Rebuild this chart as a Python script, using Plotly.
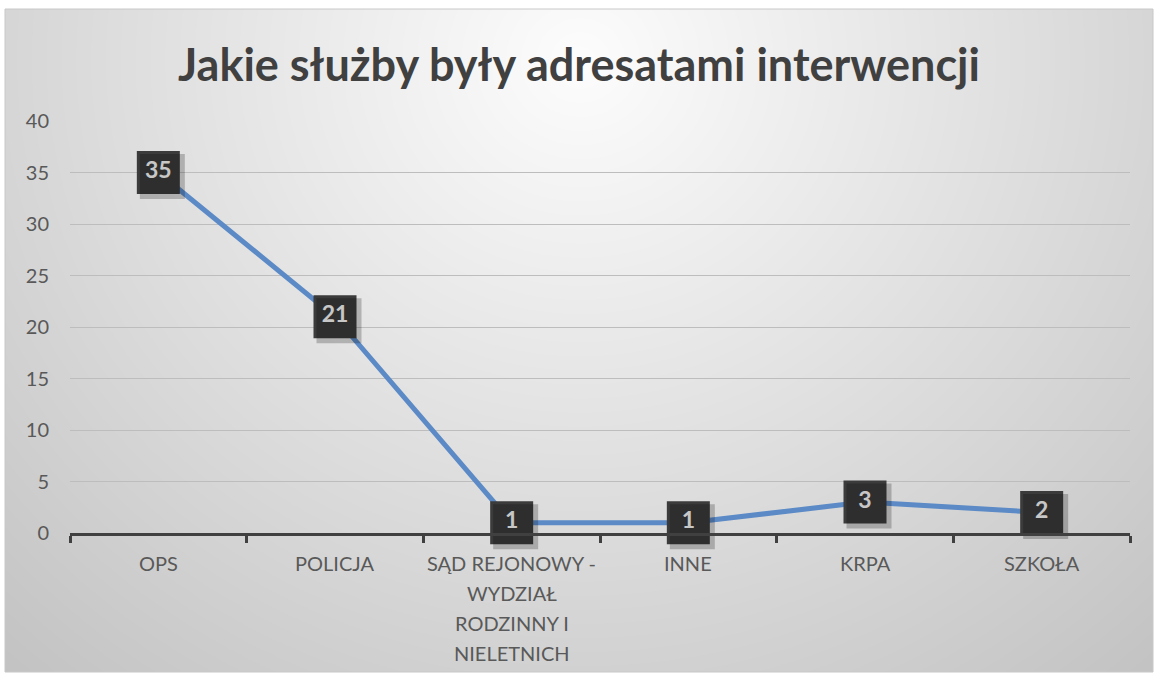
import base64, struct, zlib
import numpy as np
import plotly.graph_objects as go

# ---- data ----
categories = ["OPS", "POLICJA", "SĄD REJONOWY -<br>WYDZIAŁ<br>RODZINNY I<br>NIELETNICH", "INNE", "KRPA", "SZKOŁA"]
values = [35, 21, 1, 1, 3, 2]
y_ticks = [0, 5, 10, 15, 20, 25, 30, 35, 40]
title_text = "Jakie służby były adresatami interwencji"

W, H = 1158, 674
ML, MR, MT, MB = 70, 28, 121, 141
PW, PH = W - ML - MR, H - MT - MB
X_RANGE = [-0.5, len(categories) - 0.5]
Y_RANGE = [0, 40]

# ---- background gradient image (chart area style) ----
bx0, by0, bx1, by1 = 5, 9, 1153, 672
bw, bh = bx1 - bx0, by1 - by0
yy, xx = np.mgrid[0:bh, 0:bw]
cx, cy = 580 - bx0, 60 - by0
d = np.sqrt(((xx - cx) / 1.0) ** 2 + ((yy - cy) / 0.95) ** 2)
col = np.clip(253 - d * (58.0 / 860.0), 190, 255).astype(np.uint8)

def png_bytes(gray):
    h, w = gray.shape
    raw = b"".join(b"\x00" + gray[r].tobytes() for r in range(h))
    def chunk(t, data):
        c = struct.pack(">I", len(data)) + t + data
        return c + struct.pack(">I", zlib.crc32(t + data) & 0xFFFFFFFF)
    return (b"\x89PNG\r\n\x1a\n" + chunk(b"IHDR", struct.pack(">IIBBBBB", w, h, 8, 0, 0, 0, 0))
            + chunk(b"IDAT", zlib.compress(raw, 9)) + chunk(b"IEND", b""))

bg_uri = "data:image/png;base64," + base64.b64encode(png_bytes(col)).decode()

def px_x(p):
    return (p - ML) / PW

def px_y(p):
    return (H - MB - p) / PH

fig = go.Figure()

fig.add_trace(go.Scatter(
    x=categories, y=values, mode="lines",
    line=dict(color="#5b8ac6", width=5), hoverinfo="skip", showlegend=False,
    cliponaxis=False,
))
# shadow for labels (on shifted overlay axes -> offset right/down by a few px)
fig.add_trace(go.Scatter(
    x=categories, y=values, mode="markers", xaxis="x2", yaxis="y2",
    marker=dict(symbol="square", size=45, color="rgba(0,0,0,0.22)", line=dict(width=0)),
    hoverinfo="skip", showlegend=False, cliponaxis=False,
))
fig.add_trace(go.Scatter(
    x=categories, y=values, mode="markers+text",
    text=[str(v) for v in values], textposition="middle center",
    textfont=dict(family="Lato", size=23, color="#ffffff", weight="bold"),
    marker=dict(symbol="square", size=43, color="#3b3b3b", line=dict(width=0)),
    hoverinfo="skip", showlegend=False, cliponaxis=False,
))

annotations = []
for i, lab in enumerate(categories):
    for j, line in enumerate(lab.split("<br>")):
        annotations.append(dict(
            x=i, y=0, xref="x", yref="paper", text=line, showarrow=False,
            yanchor="middle", xanchor="center", yshift=-30 - 30 * j,
            font=dict(family="Lato", size=20, color="#595959"),
        ))

sx = 4 * (X_RANGE[1] - X_RANGE[0]) / PW
sy = 4 * (Y_RANGE[1] - Y_RANGE[0]) / PH

fig.update_layout(
    width=W, height=H,
    margin=dict(l=ML, r=MR, t=MT, b=MB, autoexpand=False),
    paper_bgcolor="white", plot_bgcolor="rgba(0,0,0,0)",
    title=dict(text=f"<b>{title_text}</b>", x=0.5, xanchor="center", y=1 - 65 / H, yanchor="middle",
               font=dict(family="Lato", size=45, color="#404040")),
    xaxis=dict(type="category", range=X_RANGE, categoryorder="array", categoryarray=categories,
               showticklabels=False, ticks="outside", tickson="boundaries", ticklen=7, tickwidth=3,
               tickcolor="#404040", showline=True, linecolor="#404040", linewidth=3,
               showgrid=False, zeroline=False, fixedrange=True),
    yaxis=dict(range=Y_RANGE, tickvals=y_ticks, ticks="", showline=False, zeroline=False,
               gridcolor="#bdbdbd", gridwidth=1, ticklabelstandoff=20, fixedrange=True,
               tickfont=dict(family="Lato", size=20, color="#595959")),
    xaxis2=dict(type="category", categoryorder="array", categoryarray=categories,
                range=[X_RANGE[0] - sx, X_RANGE[1] - sx], overlaying="x", visible=False),
    yaxis2=dict(range=[Y_RANGE[0] + sy, Y_RANGE[1] + sy], overlaying="y", visible=False),
    images=[dict(source=bg_uri, xref="paper", yref="paper", x=px_x(bx0), y=px_y(by0),
                 sizex=bw / PW, sizey=bh / PH, sizing="stretch", layer="below",
                 xanchor="left", yanchor="top")],
    shapes=[dict(type="rect", xref="paper", yref="paper", x0=px_x(bx0), x1=px_x(bx1),
                 y0=px_y(by1), y1=px_y(by0), line=dict(color="#c8c8c8", width=1), layer="below")],
    annotations=annotations,
    hovermode=False,
)

fig.write_html("out.html", config={"displayModeBar": False},
               post_script="document.body.style.margin='0px';")
